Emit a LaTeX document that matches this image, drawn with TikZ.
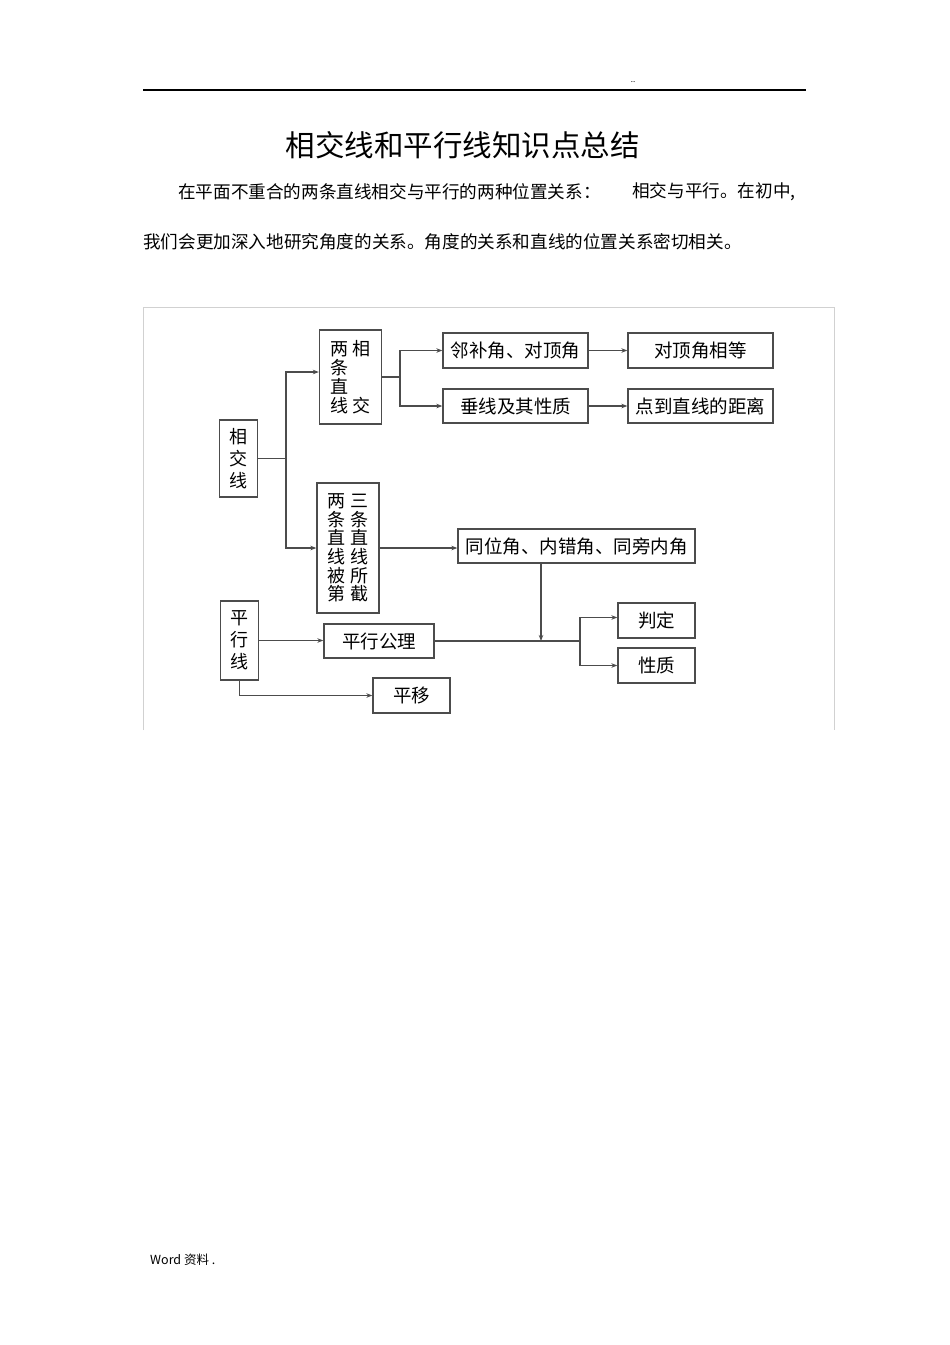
\documentclass[tikz,border=0pt]{standalone}
\usepackage{fontspec}
\setmainfont{Noto Sans CJK SC}
\usepackage{xcolor}
\usetikzlibrary{positioning,arrows.meta}

\begin{document}
\begin{tikzpicture}[
  x=1pt, y=-1pt,
  font=\fontsize{17.6}{17.6}\selectfont,
  n/.style={draw=black!70, line width=1.3pt, fill=white, inner sep=0pt,
            align=center, minimum width=145pt, minimum height=35pt,
            font=\fontsize{18.5}{18.5}\selectfont},
  v/.style={n, minimum width=38pt, font=\fontsize{18}{22}\selectfont},
  w/.style={n, minimum width=62pt, font=\fontsize{18}{19}\selectfont},
  l/.style={draw=black!70, line width=1.2pt},
  >={Stealth[length=6pt,width=4.5pt]}
]
\useasboundingbox (0,0) rectangle (950,1345);

\draw[line width=1.2pt] (143,90) -- (806,90);
\node[font=\fontsize{8}{8}\selectfont] (dots) at (633,82) {..};
\node[font=\fontsize{29.5}{29.5}\selectfont] (title) at (462.5,145) {相交线和平行线知识点总结};
\node[anchor=west, inner sep=0pt] (p1) at (178,192) {在平面不重合的两条直线相交与平行的两种位置关系：};
\node[anchor=west, inner sep=0pt] (p2) at (632,192) {相交与平行。在初中,};
\node[anchor=west, inner sep=0pt] (p3) at (143,242) {我们会更加深入地研究角度的关系。角度的关系和直线的位置关系密切相关。};
\node[anchor=west, inner sep=0pt, font=\fontsize{12.5}{12.5}\selectfont] (foot) at (150,1260) {Word 资料 .};

\draw[black!18, line width=1pt] (143,730) -- (143,307) -- (834,307) -- (834,730);

\node[v, minimum height=77pt] (jj) at (238.5,458.5) {相\\交\\线};
\node[w, minimum height=94pt] (xj) at (350.5,377)
  {两\hspace{5pt}相\\条\hspace{5pt}\phantom{相}\\直\hspace{5pt}\phantom{相}\\线\hspace{5pt}交};
\node[w, minimum height=130pt, font=\fontsize{18}{18.6}\selectfont] (sj) at (348,548)
  {两\hspace{5pt}三\\条\hspace{5pt}条\\直\hspace{5pt}直\\线\hspace{5pt}线\\被\hspace{5pt}所\\第\hspace{5pt}截};
\node[n] (nb) at (515.5,350.5) {邻补角、对顶角};
\node[n] (dd) at (700.5,350.5) {对顶角相等};
\node[n, minimum height=34pt] (cx) at (515.5,406) {垂线及其性质};
\node[n, minimum height=34pt] (jl) at (700.5,406) {点到直线的距离};
\node[n, minimum width=237pt, minimum height=34pt] (tw) at (576.5,546) {同位角、内错角、同旁内角};
\node[v, minimum height=79pt] (px) at (239.5,640.5) {平\\行\\线};
\node[n, minimum width=110pt, minimum height=34pt] (gl) at (379,641) {平行公理};
\node[n, minimum width=77pt] (pd) at (656.5,620.5) {判定};
\node[n, minimum width=77pt] (xz) at (656.5,665.5) {性质};
\node[n, minimum width=77pt] (py) at (411.5,695.5) {平移};

\coordinate (s1) at (286,0);
\coordinate (s2) at (400,0);
\coordinate (s3) at (580,0);
\coordinate (s4) at (541,0);

\draw[l] (jj.east) -- (jj.east -| s1);
\draw[l,->] (jj.east -| s1) |- ([yshift=5pt]xj.west);
\draw[l,->] (jj.east -| s1) |- (sj.west);
\draw[l] (xj.east) -- (xj.east -| s2);
\draw[l,->] (xj.east -| s2) |- (nb.west);
\draw[l,->] (xj.east -| s2) |- (cx.west);
\draw[l,->] (nb) -- (dd);
\draw[l,->] (cx) -- (jl);
\draw[l,->] (sj.east) -- (sj.east -| tw.west);
\draw[l,->] (s4 |- tw.south) -- (s4 |- gl.east);
\draw[l,->] (px.east) -- (px.east -| gl.west);
\draw[l] (gl.east) -- (gl.east -| s3);
\draw[l,->] (gl.east -| s3) |- ([yshift=3pt]pd.west);
\draw[l,->] (gl.east -| s3) |- (xz.west);
\draw[l,->] (px.south) |- (py.west);
\end{tikzpicture}
\end{document}
